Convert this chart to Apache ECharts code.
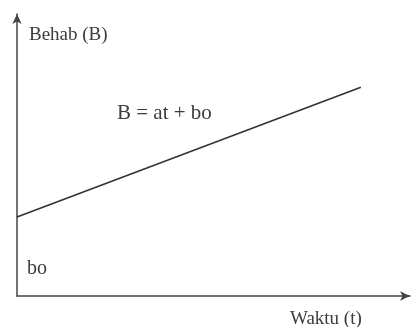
<!DOCTYPE html>
<html lang="en">

<head>
    <meta charset="utf-8">
    <title>Behab vs Waktu</title>
    <style>
        html, body { margin: 0; padding: 0; background: #fff; }
    </style>
</head>
<script type="text/javascript" src="https://cdnjs.cloudflare.com/ajax/libs/echarts/6.0.0/echarts.min.js"></script>

<body>
    <div id="myEcharts" style="width: 412px; height: 327px;"></div>
</body>
<script type="text/javascript">
    // data (no units on the axes)
    let waktu = [0, 7];
    let behab = [2.8, 7.4];
    let labels = ['Behab (B)', 'B = at + bo', 'bo', 'Waktu (t)'];

    let font = '"Liberation Serif", "DejaVu Serif", serif';
    let ink = '#3c3c3c';

    let myChart = echarts.init(document.getElementById('myEcharts'));
    let option = {
        animation: false,
        grid: { left: 17, right: 2, top: 14, bottom: 31 },
        xAxis: {
            type: 'value', min: 0, max: 8,
            axisLine: { show: true, symbol: ['none', 'arrow'], symbolSize: [7, 10], lineStyle: { color: '#444', width: 1.5 } },
            axisTick: { show: false }, axisLabel: { show: false }, splitLine: { show: false }
        },
        yAxis: {
            type: 'value', min: 0, max: 10,
            axisLine: { show: true, symbol: ['none', 'arrow'], symbolSize: [7, 10], lineStyle: { color: '#444', width: 1.5 } },
            axisTick: { show: false }, axisLabel: { show: false }, splitLine: { show: false }
        },
        series: [{
            type: 'line',
            data: waktu.map((t, i) => [t, behab[i]]),
            showSymbol: false,
            lineStyle: { color: '#333', width: 1.6 }
        }],
        graphic: [
            { type: 'text', left: 29, top: 26, style: { text: labels[0], font: '19px ' + font, fill: ink } },
            { type: 'text', left: 117, top: 103, style: { text: labels[1], font: '21px ' + font, fill: ink } },
            { type: 'text', left: 27, top: 259, style: { text: labels[2], font: '20px ' + font, fill: ink } },
            { type: 'text', left: 290, top: 310, style: { text: labels[3], font: '19px ' + font, fill: ink } }
        ]
    };
    myChart.setOption(option);
</script>

</html>
